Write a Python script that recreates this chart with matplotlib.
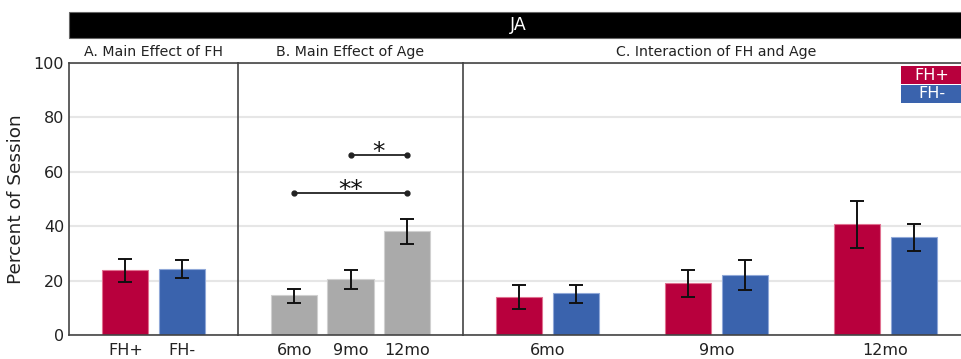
import matplotlib
matplotlib.use("Agg")
import matplotlib.pyplot as plt
from matplotlib.patches import Rectangle
import numpy as np

plt.rcParams['font.family'] = ['DejaVu Sans']

# ---- data ----
fh_groups = ["FH+", "FH-"]
fh_means = [23.9, 24.3]
fh_upper = [28.0, 27.6]
fh_lower = [19.5, 21.0]

age_groups = ["6mo", "9mo", "12mo"]
age_means = [14.7, 20.6, 38.2]
age_upper = [16.9, 23.9, 42.6]
age_lower = [11.8, 16.9, 33.5]

int_pos_means = [14.0, 19.1, 40.8]
int_pos_upper = [18.4, 23.9, 49.3]
int_pos_lower = [9.6, 14.0, 32.0]
int_neg_means = [15.4, 22.1, 36.0]
int_neg_upper = [18.4, 27.6, 40.8]
int_neg_lower = [11.8, 16.5, 30.9]

sig_pairs = [(1, 2, 66.2, "*"), (0, 2, 52.2, "**")]

panel_titles = ["A. Main Effect of FH", "B. Main Effect of Age", "C. Interaction of FH and Age"]
y_ticks = [0, 20, 40, 60, 80, 100]

RED = "#b8003d"
BLUE = "#3a63ad"
GRAY = "#aaaaaa"
GRID = "#e6e6e6"
SPINE = "#444444"

W, H = 962, 359
fig = plt.figure(figsize=(W / 100, H / 100), dpi=100)

y_bot_px, y_top_px = 335, 63
bottom = (H - y_bot_px) / H
height = (y_bot_px - y_top_px) / H

def make_ax(x0, w):
    ax = fig.add_axes([x0 / W, bottom, w / W, height])
    ax.set_ylim(0, 100)
    ax.set_yticks(y_ticks)
    ax.yaxis.grid(True, color=GRID, linewidth=1.5)
    ax.set_axisbelow(True)
    for s in ["top", "bottom", "left"]:
        ax.spines[s].set_color(SPINE)
        ax.spines[s].set_linewidth(1.2)
    ax.spines["right"].set_visible(False)
    ax.tick_params(axis="both", length=0, labelsize=11.5, colors="#222222")
    ax.tick_params(axis="x", pad=6)
    return ax

def err(means, up, lo):
    m = np.array(means)
    return [m - np.array(lo), np.array(up) - m]

ekw = dict(ecolor="#111111", elinewidth=1.4, capsize=5, capthick=1.4)

# Panel A
axA = make_ax(69, 169)
xA = np.arange(len(fh_groups))
axA.bar(xA, fh_means, width=0.82, color=[RED, BLUE], edgecolor=["#e07090", "#90a8d8"], linewidth=0.8,
        yerr=err(fh_means, fh_upper, fh_lower), error_kw=ekw)
axA.set_xlim(-1, 2)
axA.set_xticks(xA)
axA.set_xticklabels(fh_groups)
axA.set_ylabel("Percent of Session", fontsize=13.3, color="#222222", labelpad=6)

# Panel B
axB = make_ax(238, 225)
xB = np.arange(len(age_groups))
axB.bar(xB, age_means, width=0.82, color=GRAY, edgecolor="#d0d0d0", linewidth=0.8,
        yerr=err(age_means, age_upper, age_lower), error_kw=ekw)
axB.set_xlim(-1, 3)
axB.set_xticks(xB)
axB.set_xticklabels(age_groups)
axB.set_yticklabels([])
for a, b, y, lab in sig_pairs:
    axB.plot([a, b], [y, y], color="#222222", linewidth=1.3, marker="o", markersize=3.5)
    axB.text((a + b) / 2, y - 3.2, lab, ha="center", va="bottom", fontsize=18, color="#111111")

# Panel C
axC = make_ax(463, 507)
xC = np.arange(len(age_groups))
off = 0.166
bw = 0.272
axC.bar(xC - off, int_pos_means, width=bw, color=RED, edgecolor="#e07090", linewidth=0.8,
        yerr=err(int_pos_means, int_pos_upper, int_pos_lower), error_kw=ekw)
axC.bar(xC + off, int_neg_means, width=bw, color=BLUE, edgecolor="#90a8d8", linewidth=0.8,
        yerr=err(int_neg_means, int_neg_upper, int_neg_lower), error_kw=ekw)
axC.set_xlim(-0.5, 2.5)
axC.set_xticks(xC)
axC.set_xticklabels(age_groups)
axC.set_yticklabels([])

for ax, t in zip([axA, axB, axC], panel_titles):
    ax.text(0.5, 1.0 + 11 / 272, t, transform=ax.transAxes, ha="center", va="center",
            fontsize=10.2, color="#222222")

# Header bar
fig.patches.append(Rectangle((69 / W, (H - 38) / H), (W - 69) / W, 26 / H,
                             transform=fig.transFigure, facecolor="black",
                             edgecolor="#666666", linewidth=0.8))
fig.text(518 / W, (H - 25) / H, "JA", ha="center", va="center", color="white", fontsize=12.5)

# Legend boxes
for i, (lab, col) in enumerate([("FH+", RED), ("FH-", BLUE)]):
    y0 = 66 + i * 19
    fig.patches.append(Rectangle((901 / W, (H - y0 - 18) / H), 62 / W, 18 / H,
                                 transform=fig.transFigure, facecolor=col, edgecolor="none"))
    fig.text(932 / W, (H - y0 - 9) / H, lab, ha="center", va="center", color="white", fontsize=11.5)

fig.savefig("out.png", dpi=100)
